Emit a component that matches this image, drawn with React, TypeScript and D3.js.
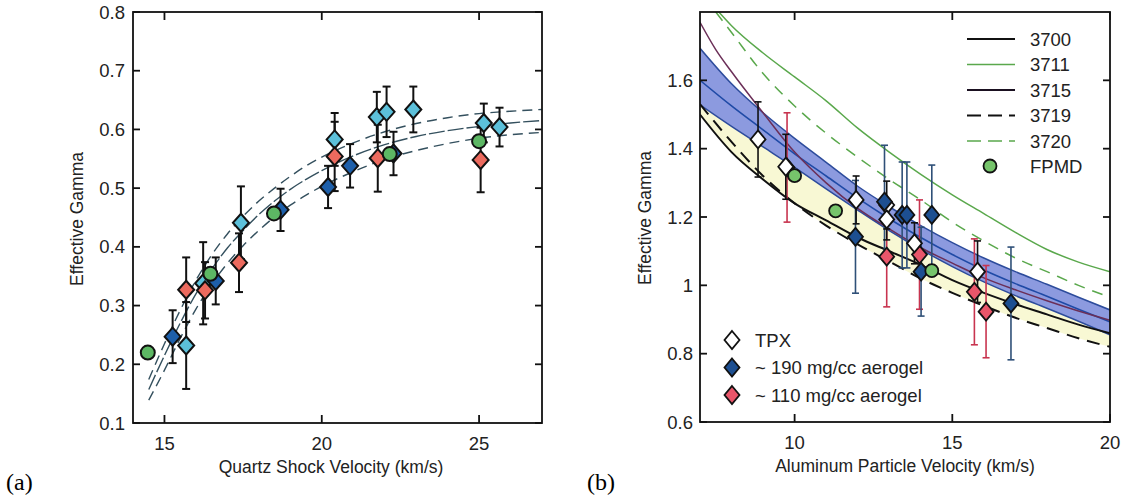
import React from "react";
import * as d3 from "d3";

// ---------- Panel (a) data: Quartz shock velocity vs effective gamma ----------
const aXTicks = [15, 20, 25];
const aYTicks = [0.1, 0.2, 0.3, 0.4, 0.5, 0.6, 0.7, 0.8];

// [velocity, gamma, error]
const quartzCyan = [
  [15.69, 0.232, 0.074], [16.23, 0.338, 0.07], [17.43, 0.441, 0.062],
  [20.41, 0.583, 0.045], [21.75, 0.621, 0.043], [22.06, 0.63, 0.043],
  [22.91, 0.634, 0.039], [25.15, 0.611, 0.033], [25.65, 0.604, 0.033],
];
const quartzBlue = [
  [15.26, 0.247, 0.045], [16.63, 0.342, 0.04], [18.69, 0.463, 0.036],
  [20.2, 0.502, 0.036], [20.9, 0.538, 0.037], [22.28, 0.559, 0.037],
];
const quartzRed = [
  [15.69, 0.327, 0.055], [16.29, 0.326, 0.048], [17.37, 0.373, 0.05],
  [20.41, 0.554, 0.059], [21.78, 0.551, 0.057], [25.05, 0.548, 0.055],
];
const quartzGreen = [
  [14.47, 0.22], [16.46, 0.354], [18.48, 0.457], [22.16, 0.558], [25.0, 0.58],
];

const fitV = [14.5, 15, 15.5, 16, 16.5, 17, 17.5, 18, 18.5, 19, 19.5, 20, 21, 22, 23, 24, 25, 26, 27];
const fitMid = [0.157, 0.215, 0.27, 0.32, 0.362, 0.398, 0.428, 0.455, 0.478, 0.498, 0.515, 0.53, 0.555, 0.574, 0.588, 0.598, 0.605, 0.611, 0.615];
const fitUpper = [0.174, 0.235, 0.292, 0.343, 0.386, 0.422, 0.452, 0.478, 0.5, 0.52, 0.538, 0.553, 0.577, 0.596, 0.61, 0.62, 0.627, 0.631, 0.634];
const fitLower = [0.139, 0.19, 0.244, 0.294, 0.336, 0.372, 0.402, 0.428, 0.451, 0.471, 0.488, 0.503, 0.528, 0.549, 0.564, 0.576, 0.585, 0.591, 0.595];

// ---------- Panel (b) data: Aluminum particle velocity vs effective gamma ----------
const bXTicks = [10, 15, 20];
const bYTicks = [0.6, 0.8, 1.0, 1.2, 1.4, 1.6];

const tpx = [
  [8.84, 1.427, 0.11], [9.72, 1.347, 0.095], [11.95, 1.25, 0.07],
  [12.92, 1.235, 0.07], [12.92, 1.193, 0.06], [13.8, 1.123, 0.06], [15.8, 1.04, 0.09],
];
const aerogel190 = [
  [11.93, 1.142, 0.165], [12.85, 1.245, 0.165], [13.41, 1.206, 0.155],
  [13.56, 1.206, 0.155], [14.01, 1.04, 0.13], [14.35, 1.206, 0.146], [16.86, 0.947, 0.165],
];
const aerogel110 = [
  [9.76, 1.345, 0.16], [12.92, 1.084, 0.147], [13.96, 1.09, 0.16],
  [15.7, 0.981, 0.155], [16.07, 0.923, 0.135],
];
const fpmd = [[10.0, 1.321], [11.3, 1.218], [14.35, 1.043]];

const curveV = [7, 8, 9, 10, 11, 12, 13, 14, 15, 16, 17, 18, 19, 20];
const curveV2 = [7.5, 8, 9, 10, 11, 12, 13, 14, 15, 16, 17, 18, 19, 20];
const curveV3 = [7, 7.5, 8, 9, 10, 11, 12, 13, 14, 15, 16, 17, 18, 19, 20];
const g3700 = [1.5, 1.39, 1.31, 1.24, 1.19, 1.14, 1.1, 1.06, 1.015, 0.978, 0.945, 0.915, 0.885, 0.86];
const g3711 = [1.81, 1.76, 1.68, 1.61, 1.54, 1.46, 1.39, 1.325, 1.265, 1.21, 1.155, 1.105, 1.068, 1.04];
const g3715 = [1.77, 1.69, 1.625, 1.505, 1.39, 1.3, 1.225, 1.165, 1.11, 1.065, 1.022, 0.987, 0.955, 0.925, 0.898];
const g3719 = [1.53, 1.42, 1.32, 1.24, 1.175, 1.12, 1.07, 1.02, 0.978, 0.94, 0.905, 0.875, 0.845, 0.82];
const g3720 = [1.8, 1.74, 1.62, 1.525, 1.445, 1.375, 1.31, 1.25, 1.185, 1.13, 1.08, 1.04, 1.0, 0.965];
const bandMid = [1.6, 1.525, 1.455, 1.385, 1.32, 1.255, 1.195, 1.14, 1.09, 1.045, 1.005, 0.968, 0.93, 0.893];
const bandUpper = [1.694, 1.59, 1.505, 1.43, 1.36, 1.29, 1.23, 1.175, 1.125, 1.08, 1.04, 1.003, 0.965, 0.928];
const bandLower = [1.528, 1.465, 1.405, 1.345, 1.282, 1.22, 1.16, 1.105, 1.055, 1.01, 0.97, 0.933, 0.895, 0.855];

const legendLines = ["3700", "3711", "3715", "3719", "3720"];
const legendMarkers = ["TPX", "~ 190 mg/cc aerogel", "~ 110 mg/cc aerogel"];

const SANS = "'Liberation Sans', Arial, Helvetica, sans-serif";
const SERIF = "'Liberation Serif', 'Times New Roman', serif";
const TICK_FS = 18.5;
const TITLE_FS = 17.5;
const LEG_FS = 18.5;

const diamond = (x: number, y: number, rx: number, ry: number) =>
  `M${x},${y - ry}L${x + rx},${y}L${x},${y + ry}L${x - rx},${y}Z`;

function Frame({ x0, x1, y0, y1 }: any) {
  return <rect x={x0} y={y0} width={x1 - x0} height={y1 - y0} fill="none" stroke="#111" strokeWidth={1.8} />;
}

function ErrBar({ x, y1, y2, color, w = 1.6, cap = 3.5 }: any) {
  return (
    <g stroke={color} strokeWidth={w}>
      <line x1={x} x2={x} y1={y1} y2={y2} />
      <line x1={x - cap} x2={x + cap} y1={y1} y2={y1} />
      <line x1={x - cap} x2={x + cap} y1={y2} y2={y2} />
    </g>
  );
}

export default function App() {
  // ---- Panel a scales
  const ax = d3.scaleLinear().domain([14, 27]).range([133, 542]);
  const ay = d3.scaleLinear().domain([0.1, 0.8]).range([423, 12]);
  const aLine = (ys: number[]) =>
    d3.line<number>().x((_, i) => ax(fitV[i])).y((d) => ay(d)).curve(d3.curveMonotoneX)(ys) || "";

  // ---- Panel b scales
  const bx = d3.scaleLinear().domain([7, 20]).range([700, 1110]);
  const by = d3.scaleLinear().domain([0.6, 1.8]).range([422, 12]);
  const bLine = (vs: number[], gs: number[]) =>
    d3.line<number>().x((_, i) => bx(vs[i])).y((d) => by(d)).curve(d3.curveMonotoneX)(gs) || "";
  const bandArea =
    d3.area<number>().x((_, i) => bx(curveV[i])).y0((_, i) => by(bandLower[i])).y1((d) => by(d)).curve(d3.curveMonotoneX)(bandUpper) || "";
  const yellowArea =
    d3.area<number>().x((_, i) => bx(curveV[i])).y0((_, i) => by(Math.min(g3700[i], g3719[i]))).y1((d) => by(d)).curve(d3.curveMonotoneX)(bandLower) || "";

  const fitColor = "#34505e";

  const aPts = (data: number[][], fill: string) =>
    data.map((d, i) => <path key={i} d={diamond(ax(d[0]), ay(d[1]), 8, 9)} fill={fill} stroke="#111" strokeWidth={2} />);
  const aErr = (data: number[][]) =>
    data.map((d, i) => <ErrBar key={i} x={ax(d[0])} y1={ay(d[1] + d[2])} y2={ay(d[1] - d[2])} color="#111" w={2} cap={4} />);

  const bPts = (data: number[][], fill: string) =>
    data.map((d, i) => <path key={i} d={diamond(bx(d[0]), by(d[1]), 7.5, 9)} fill={fill} stroke="#111" strokeWidth={1.8} />);
  const bErr = (data: number[][], color: string) =>
    data.map((d, i) => <ErrBar key={i} x={bx(d[0])} y1={by(d[1] + d[2])} y2={by(d[1] - d[2])} color={color} w={1.6} cap={3.5} />);

  return (
    <svg width={1128} height={497} style={{ position: "absolute", left: 0, top: 0, background: "#fff" }}>
      <rect x={0} y={0} width={1128} height={497} fill="#fff" />
      {/* ================= Panel (a) ================= */}
      <g>
        <path d={aLine(fitUpper)} fill="none" stroke={fitColor} strokeWidth={1.4} strokeDasharray="10,6" />
        <path d={aLine(fitMid)} fill="none" stroke={fitColor} strokeWidth={1.4} strokeDasharray="16,3" />
        <path d={aLine(fitLower)} fill="none" stroke={fitColor} strokeWidth={1.4} strokeDasharray="10,6" />

        {aErr(quartzCyan)}
        {aErr(quartzBlue)}
        {aErr(quartzRed)}
        {aPts(quartzCyan, "#5cc0da")}
        {aPts(quartzRed, "#ec6a5e")}
        {aPts(quartzBlue, "#1d5faa")}
        {quartzGreen.map((d, i) => (
          <circle key={i} cx={ax(d[0])} cy={ay(d[1])} r={7} fill="#5db764" stroke="#111" strokeWidth={2} />
        ))}

        <Frame x0={133} x1={542} y0={12} y1={423} />
        {aYTicks.map((t) => (
          <g key={t}>
            <line x1={133} x2={140} y1={ay(t)} y2={ay(t)} stroke="#111" strokeWidth={1.8} />
            <line x1={535} x2={542} y1={ay(t)} y2={ay(t)} stroke="#111" strokeWidth={1.8} />
            <text x={125} y={ay(t) + 6.5} textAnchor="end" fontFamily={SANS} fontSize={TICK_FS} fill="#222">
              {t.toFixed(1)}
            </text>
          </g>
        ))}
        {aXTicks.map((t) => (
          <g key={t}>
            <line x1={ax(t)} x2={ax(t)} y1={423} y2={415} stroke="#111" strokeWidth={1.8} />
            <line x1={ax(t)} x2={ax(t)} y1={12} y2={20} stroke="#111" strokeWidth={1.8} />
            <text x={ax(t)} y={450} textAnchor="middle" fontFamily={SANS} fontSize={TICK_FS} fill="#222">
              {t}
            </text>
          </g>
        ))}
        <text x={331} y={473} textAnchor="middle" fontFamily={SANS} fontSize={TITLE_FS} fill="#222">
          Quartz Shock Velocity (km/s)
        </text>
        <text transform="translate(83,219) rotate(-90)" textAnchor="middle" fontFamily={SANS} fontSize={TITLE_FS} fill="#222">
          Effective Gamma
        </text>
        <text x={6} y={490} fontFamily={SERIF} fontSize={24} fill="#000">(a)</text>
      </g>

      {/* ================= Panel (b) ================= */}
      <defs>
        <clipPath id="clipB">
          <rect x={700} y={12} width={410} height={410} />
        </clipPath>
      </defs>
      <g clipPath="url(#clipB)">
        <path d={yellowArea} fill="#f8f8d4" stroke="none" />
        <path d={bandArea} fill="#7f8fdc" stroke="none" opacity={0.9} />
        <path d={bLine(curveV, bandUpper)} fill="none" stroke="#2d4c9c" strokeWidth={1.5} />
        <path d={bLine(curveV, bandLower)} fill="none" stroke="#2d4c9c" strokeWidth={1.5} />
        <path d={bLine(curveV, bandMid)} fill="none" stroke="#1f4aa6" strokeWidth={1.6} />
        <path d={bLine(curveV3, g3715)} fill="none" stroke="#6b2f58" strokeWidth={1.5} />
        <path d={bLine(curveV, g3700)} fill="none" stroke="#111" strokeWidth={2} />
        <path d={bLine(curveV, g3719)} fill="none" stroke="#111" strokeWidth={2} strokeDasharray="13,8" />
        <path d={bLine(curveV2, g3711)} fill="none" stroke="#5aa84c" strokeWidth={1.5} />
        <path d={bLine(curveV2, g3720)} fill="none" stroke="#5aa84c" strokeWidth={1.5} strokeDasharray="11,8" />
      </g>
      <g>
        {bErr(aerogel110, "#c8344f")}
        {bErr(aerogel190, "#2f5078")}
        {bErr(tpx, "#111")}
        {bPts(aerogel110, "#e9566a")}
        {bPts(tpx, "#ffffff")}
        {bPts(aerogel190, "#1d4f91")}
        {fpmd.map((d, i) => (
          <circle key={i} cx={bx(d[0])} cy={by(d[1])} r={6.5} fill="#76c46b" stroke="#111" strokeWidth={1.8} />
        ))}

        <Frame x0={700} x1={1110} y0={12} y1={422} />
        {bYTicks.map((t) => (
          <g key={t}>
            <line x1={700} x2={707} y1={by(t)} y2={by(t)} stroke="#111" strokeWidth={1.8} />
            <line x1={1103} x2={1110} y1={by(t)} y2={by(t)} stroke="#111" strokeWidth={1.8} />
            <text x={693} y={by(t) + 6.5} textAnchor="end" fontFamily={SANS} fontSize={TICK_FS} fill="#222">
              {t === 1 ? "1" : t.toFixed(1)}
            </text>
          </g>
        ))}
        {bXTicks.map((t) => (
          <g key={t}>
            <line x1={bx(t)} x2={bx(t)} y1={422} y2={414} stroke="#111" strokeWidth={1.8} />
            <line x1={bx(t)} x2={bx(t)} y1={12} y2={20} stroke="#111" strokeWidth={1.8} />
            <text x={bx(t)} y={449} textAnchor="middle" fontFamily={SANS} fontSize={TICK_FS} fill="#222">
              {t}
            </text>
          </g>
        ))}

        {/* legend top-right */}
        {legendLines.map((name, i) => {
          const y = 39 + i * 25.5;
          const styles = [
            { stroke: "#111", w: 2, dash: undefined },
            { stroke: "#5aa84c", w: 1.5, dash: undefined },
            { stroke: "#1a1020", w: 2, dash: undefined },
            { stroke: "#111", w: 2, dash: "14,7" },
            { stroke: "#5aa84c", w: 1.5, dash: "14,7" },
          ][i];
          return (
            <g key={name}>
              <line x1={967} x2={1015} y1={y} y2={y} stroke={styles.stroke} strokeWidth={styles.w} strokeDasharray={styles.dash} />
              <text x={1030} y={y + 6.5} fontFamily={SANS} fontSize={LEG_FS} fill="#222">{name}</text>
            </g>
          );
        })}
        <circle cx={990} cy={166} r={6.5} fill="#76c46b" stroke="#111" strokeWidth={1.8} />
        <text x={1030} y={172.5} fontFamily={SANS} fontSize={LEG_FS} fill="#222">FPMD</text>

        {/* legend bottom-left */}
        {legendMarkers.map((name, i) => {
          const y = 340 + i * 27.5;
          const fill = ["#ffffff", "#1d4f91", "#e9566a"][i];
          return (
            <g key={name}>
              <path d={diamond(732, y, 7.5, 9)} fill={fill} stroke="#111" strokeWidth={1.8} />
              <text x={755} y={y + 6.5} fontFamily={SANS} fontSize={LEG_FS} fill="#222">{name}</text>
            </g>
          );
        })}

        <text x={905} y={472} textAnchor="middle" fontFamily={SANS} fontSize={TITLE_FS} fill="#222">
          Aluminum Particle Velocity (km/s)
        </text>
        <text transform="translate(651,218) rotate(-90)" textAnchor="middle" fontFamily={SANS} fontSize={TITLE_FS} fill="#222">
          Effective Gamma
        </text>
        <text x={587} y={490} fontFamily={SERIF} fontSize={24} fill="#000">(b)</text>
      </g>
    </svg>
  );
}
